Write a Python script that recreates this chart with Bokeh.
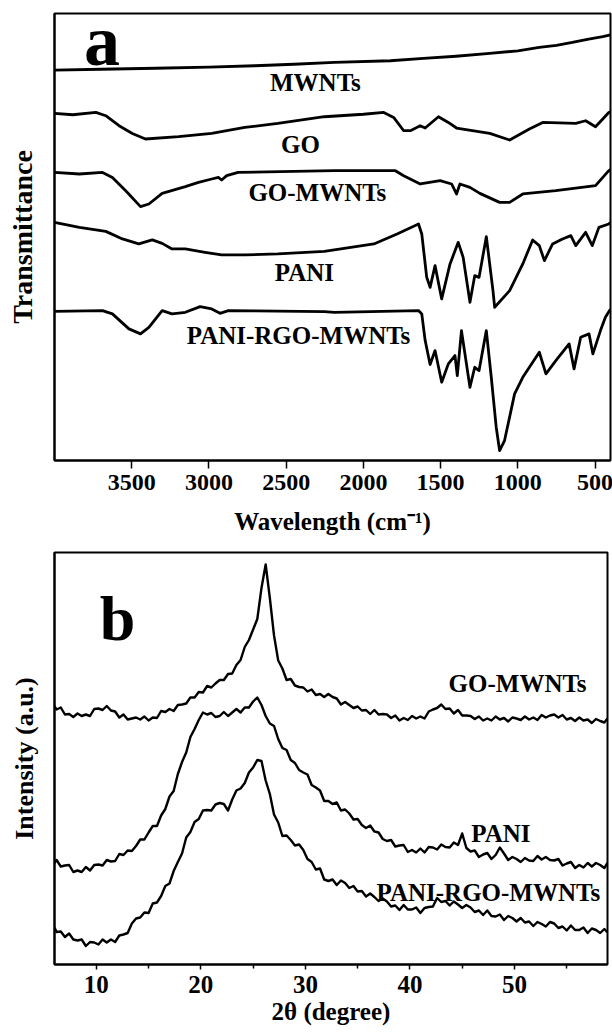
from bokeh.plotting import figure
from bokeh.layouts import column
from bokeh.models import Range1d, FixedTicker, ColumnDataSource
from bokeh.core.properties import value
from bokeh.embed import file_html
from bokeh.resources import INLINE

FONT = "Liberation Serif"

# ---------------- Panel a: FTIR (wavenumber, transmittance offset a.u.) ----------------
mwnts_wn = [4000, 3700, 3346, 3000, 2703, 2450, 2189, 1825, 1611, 1400, 1182, 1000, 861, 750, 647, 550, 450, 400]
mwnts_t = [390.7, 391.5, 392.5, 393.7, 395, 396.5, 398.3, 400, 402.3, 404.5, 407.3, 410, 413.3, 415.5, 418.3, 421.5, 424.2, 426]

go_wn = [4000, 3882, 3732, 3668, 3582, 3496, 3411, 3196, 2982, 2768, 2554, 2253, 2000, 1868, 1804, 1739, 1696,
         1632, 1600, 1514, 1450, 1397, 1182, 1053, 925, 839, 625, 561, 497, 411, 400]
go_t = [347.3, 346, 348.3, 345, 335, 327.3, 321.7, 324, 327.3, 333.3, 337.3, 344, 346.5, 348.3, 343.3, 330, 330,
        335, 332.7, 344, 338.3, 332.7, 327.3, 320.7, 331.7, 338.3, 337.3, 340, 334, 348.3, 349]

gomw_wn = [4000, 3839, 3689, 3625, 3539, 3443, 3389, 3303, 3153, 3068, 2982, 2939, 2918, 2885, 2811, 2189, 1793,
           1739, 1632, 1503, 1429, 1397, 1375, 1310, 1246, 1118, 1053, 968, 754, 497, 411, 400]
gomw_t = [288.3, 286.7, 288.3, 283.3, 270, 254, 256.7, 267.3, 274, 278.3, 281.7, 283.3, 280.7, 285, 288.3, 290, 290,
          285, 276.7, 280, 276.7, 266.7, 276.7, 273.3, 267.3, 258.3, 258.3, 266.7, 270, 275, 290, 291]

pani_wn = [4000, 3839, 3668, 3560, 3454, 3367, 3303, 3239, 3153, 3025, 2918, 2768, 2554, 2253, 2189, 1932, 1782,
           1643, 1622, 1590, 1568, 1536, 1493, 1439, 1386, 1354, 1310, 1279, 1251, 1204, 1161, 1150, 1053, 968,
           904, 861, 828, 775, 711, 657, 625, 561, 518, 475, 411, 400]
pani_t = [238.3, 233.3, 229.3, 221.7, 216.7, 220.7, 217.3, 211.7, 211.7, 208.3, 205.7, 205.7, 206.7, 209.3, 210.7,
          216.7, 226.7, 236.7, 226.7, 183.3, 173.3, 195, 161.7, 196.7, 218.3, 203.3, 158.3, 185, 183.3, 224, 170,
          153.3, 170, 196.7, 220.7, 215, 200, 216.7, 221.7, 225, 215, 228.3, 215, 233.3, 236.7, 238]

prgm_wn = [4000, 3689, 3625, 3518, 3443, 3389, 3303, 3239, 3153, 3057, 2982, 2928, 2875, 2253, 2189, 1643, 1622,
           1600, 1568, 1536, 1493, 1450, 1407, 1392, 1365, 1310, 1279, 1251, 1204, 1172, 1140, 1118, 1086, 1021,
           968, 861, 818, 754, 668, 636, 593, 539, 514, 465, 433, 407, 400]
prgm_t = [149.3, 150, 146.7, 131.7, 126.7, 133.3, 150, 146.7, 148.3, 154, 151.7, 147.3, 150, 149, 148.3, 150, 146.7,
          120, 96, 110, 78.3, 96.7, 105, 85, 130, 73.3, 93.3, 90, 130, 83.3, 33.3, 10, 20, 66.7,
          83.3, 108.3, 86.7, 100, 116.7, 91.7, 123.3, 126.7, 106.7, 130, 143.3, 150, 151]

ftir_ticks = [3500, 3000, 2500, 2000, 1500, 1000, 500]
ftir_names = ["MWNTs", "GO", "GO-MWNTs", "PANI", "PANI-RGO-MWNTs"]
ftir_name_wn = [2311, 2408, 2298, 2382, 2420]
ftir_name_t = [378, 316, 268, 188, 125]

# ---------------- Panel b: XRD (2theta, intensity offset a.u.) ----------------
two_theta = [6.0, 6.2, 6.6, 7.0, 7.4, 7.8, 8.2, 8.6, 9.0, 9.4, 9.8, 10.2, 10.6, 11.0, 11.4, 11.8, 12.2, 12.6,
             13.0, 13.4, 13.8, 14.2, 14.6, 15.0, 15.4, 15.8, 16.2, 16.6, 17.0, 17.4, 17.8, 18.2, 18.6, 19.0,
             19.4, 19.8, 20.2, 20.6, 21.0, 21.4, 21.8, 22.2, 22.6, 23.0, 23.4, 23.8, 24.2, 24.6, 25.0, 25.4,
             25.8, 26.2, 26.6, 27.0, 27.4, 27.8, 28.2, 28.6, 29.0, 29.4, 29.8, 30.2, 30.6, 31.0, 31.4, 31.8,
             32.2, 32.6, 33.0, 33.4, 33.8, 34.2, 34.6, 35.0, 35.4, 35.8, 36.2, 36.6, 37.0, 37.4, 37.8, 38.2,
             38.6, 39.0, 39.4, 39.8, 40.2, 40.6, 41.0, 41.4, 41.8, 42.2, 42.6, 43.0, 43.4, 43.8, 44.2, 44.6,
             45.0, 45.4, 45.8, 46.2, 46.6, 47.0, 47.4, 47.8, 48.2, 48.6, 49.0, 49.4, 49.8, 50.2, 50.6, 51.0,
             51.4, 51.8, 52.2, 52.6, 53.0, 53.4, 53.8, 54.2, 54.6, 55.0, 55.4, 55.8, 56.2, 56.6, 57.0, 57.4,
             57.8, 58.2, 58.6, 58.9]

xrd_gomw = [258.5, 255, 257, 250, 250.5, 247.5, 251, 248.5, 250, 248.5, 255.5, 256, 254.5, 258.5, 254, 253, 247,
            250, 245, 246, 247, 245, 248, 244, 247, 246.5, 253.5, 252.5, 255.5, 253.5, 259.5, 260, 261, 267,
            267, 272.5, 272, 278.5, 277, 281, 284.5, 284.5, 290.5, 291, 299.5, 304.5, 317.5, 324.5, 335, 345.5,
            376.5, 400, 366.5, 329, 304, 296, 284.5, 285.5, 279, 277.5, 277, 273, 275, 269.5, 270.5, 267.5,
            270.5, 267.5, 266, 260, 262.5, 259.5, 256.5, 258, 254, 254.5, 250.5, 254.5, 250, 250.5, 250, 246.5,
            249, 244, 246.5, 244.5, 248.5, 246, 248, 246, 253, 255, 256.5, 260, 255.5, 256, 251, 254.5,
            249, 249, 248.5, 245.5, 248, 244, 246, 244, 248, 245, 246.5, 243, 247, 246, 244.5, 248,
            245, 247, 244.5, 249.5, 247, 249, 250, 247, 249.5, 245, 246.5, 243.5, 247, 244, 245, 241.5,
            245.5, 243.5, 242, 246]

xrd_pani = [101.5, 104.5, 98, 99, 99.5, 92.5, 94, 92.5, 97.5, 94, 99.5, 100, 99, 104.5, 103, 103.5, 110.5,
            109.5, 114, 113.5, 118.5, 125, 125, 132, 138.5, 138.5, 149, 155.5, 168, 173.5, 190.5, 202.5, 212, 227.5,
            235.5, 244.5, 252, 250, 251.5, 247.5, 248.5, 252.5, 248.5, 252, 255.5, 252, 257, 257, 263, 267,
            259.5, 248.5, 241, 238.5, 225.5, 216.5, 214.5, 204.5, 201.5, 194.5, 192, 190, 179.5, 177, 174, 163.5,
            163.5, 160.5, 162, 154, 155, 151, 145, 145.5, 139.5, 136.5, 139, 133, 132, 125.5, 123.5, 124.5,
            118, 119, 119.5, 112.5, 114.5, 112, 116, 112, 117.5, 117, 115, 120, 117.5, 117, 122, 119.5,
            131, 116.5, 113, 114, 107.5, 110, 111.5, 105.5, 109.5, 117, 111, 104.5, 107.5, 105.5, 102.5, 106.5,
            104, 103.5, 108.5, 105, 107.5, 104.5, 104, 105.5, 99, 101, 102.5, 96.5, 99.5, 97, 101.5, 98,
            101.5, 99.5, 96.5, 101.5]

xrd_prgm = [37, 32.5, 33, 27.5, 31, 25, 24, 25, 18.5, 22.5, 22, 20, 25, 22, 25, 22.5, 29,
            30, 31.5, 41, 46, 47, 52, 51.5, 61, 62, 68.5, 78.5, 81, 93.5, 102.5, 111, 127, 132.5,
            142.5, 145.5, 154, 154.5, 154, 160, 161.5, 160.5, 154, 165, 174, 176, 181.5, 192, 197, 204.5,
            203.5, 184, 170.5, 150, 142, 128.5, 129, 124.5, 119, 120, 114.5, 105.5, 102.5, 95, 96, 85,
            83.5, 85, 79.5, 84, 81.5, 76.5, 78.5, 73, 73.5, 68, 71, 67.5, 63.5, 66, 63, 58,
            59, 54.5, 59.5, 55, 55, 57, 51.5, 56.5, 57.5, 58, 66.5, 62.5, 63.5, 59, 63, 60,
            56.5, 59.5, 57, 52.5, 54, 49.5, 54, 48.5, 48, 50, 44.5, 48.5, 46.5, 43, 46.5, 42,
            43, 38.5, 42.5, 40.5, 38, 42.5, 41, 36.5, 38, 34, 39, 34.5, 34.5, 37, 31.5, 36,
            34.5, 31.5, 35.5, 32]

xrd_ticks = [10, 20, 30, 40, 50]
xrd_minor = [15, 25, 35, 45, 55]
xrd_names = ["GO-MWNTs", "PANI", "PANI-RGO-MWNTs"]
xrd_name_x = [50.3, 48.7, 47.5]
xrd_name_y = [280.6, 131.3, 72.3]


def style(p):
    p.toolbar_location = None
    p.xgrid.visible = False
    p.ygrid.visible = False
    p.background_fill_color = "white"
    p.border_fill_color = "white"
    p.outline_line_color = "black"
    p.outline_line_width = 2
    p.outline_line_alpha = 1
    for ax in p.axis:
        ax.axis_line_color = "black"
        ax.axis_line_width = 2
        ax.major_label_text_font = FONT
        ax.major_label_text_font_style = "bold"
        ax.major_label_text_color = "black"
        ax.axis_label_text_font = FONT
        ax.axis_label_text_font_style = "bold"
        ax.axis_label_text_color = "black"
        ax.major_tick_line_color = "black"
        ax.minor_tick_line_color = "black"
        ax.major_tick_line_width = 1.5
        ax.minor_tick_line_width = 1.5


# ---- panel a ----
pa = figure(frame_width=556, frame_height=447, output_backend="svg", toolbar_location=None,
            x_range=Range1d(4000, 400), y_range=Range1d(0, 447.3),
            min_border_left=48, min_border_right=8, min_border_top=13, min_border_bottom=88)
style(pa)
pa.xaxis.ticker = FixedTicker(ticks=ftir_ticks)
pa.xaxis.major_tick_out = 8
pa.xaxis.major_tick_in = 0
pa.xaxis.major_label_text_font_size = "24px"
pa.xaxis.major_label_standoff = 6
pa.xaxis.axis_label = "Wavelength (cm\u207b\u00b9)"
pa.xaxis.axis_label_text_font_size = "25px"
pa.xaxis.axis_label_standoff = 15
pa.yaxis.ticker = FixedTicker(ticks=[])
pa.yaxis.axis_label = "Transmittance"
pa.yaxis.axis_label_text_font_size = "28px"
pa.yaxis.axis_label_standoff = 17

for xs, ys in [(mwnts_wn, mwnts_t), (go_wn, go_t), (gomw_wn, gomw_t), (pani_wn, pani_t), (prgm_wn, prgm_t)]:
    pa.line(xs, ys, line_color="black", line_width=2.8, line_join="round")

pa.text(x=ftir_name_wn, y=ftir_name_t, text=ftir_names, text_font=value(FONT), text_font_style="bold",
        text_font_size=value("25px"), text_align="center", text_baseline="alphabetic", text_color="black")
pa.text(x=[3693], y=[420], text=["a"], text_font=value(FONT), text_font_style="bold",
        text_font_size=value("72px"), text_align="center", text_baseline="alphabetic", text_color="black")

# ---- panel b ----
pb = figure(frame_width=553, frame_height=412, output_backend="svg", toolbar_location=None,
            x_range=Range1d(6, 58.9), y_range=Range1d(0, 412),
            min_border_left=54, min_border_right=5, min_border_top=4, min_border_bottom=69)
style(pb)
pb.xaxis.ticker = FixedTicker(ticks=xrd_ticks, minor_ticks=xrd_minor)
pb.xaxis.major_tick_out = 5
pb.xaxis.major_tick_in = 0
pb.xaxis.minor_tick_out = 4
pb.xaxis.minor_tick_in = 0
pb.xaxis.major_label_text_font_size = "25px"
pb.xaxis.major_label_standoff = 6
pb.xaxis.axis_label = "2\u03b8 (degree)"
pb.xaxis.axis_label_text_font_size = "25px"
pb.xaxis.axis_label_standoff = 2
pb.yaxis.ticker = FixedTicker(ticks=[])
pb.yaxis.axis_label = "Intensity (a.u.)"
pb.yaxis.axis_label_text_font_size = "26px"
pb.yaxis.axis_label_standoff = 16

src = ColumnDataSource(dict(x=two_theta, g=xrd_gomw, p=xrd_pani, r=xrd_prgm))
for col in ["g", "p", "r"]:
    pb.line("x", col, source=src, line_color="black", line_width=2.4, line_join="round")

pb.text(x=xrd_name_x, y=xrd_name_y, text=xrd_names, text_font=value(FONT), text_font_style="bold",
        text_font_size=value("25px"), text_align="center", text_baseline="alphabetic", text_color="black")
pb.text(x=[12.04], y=[346.3], text=["b"], text_font=value(FONT), text_font_style="bold",
        text_font_size=value("64px"), text_align="center", text_baseline="alphabetic", text_color="black")

layout = column(pa, pb, spacing=0)
open("out.html", "w").write(file_html(layout, INLINE))
